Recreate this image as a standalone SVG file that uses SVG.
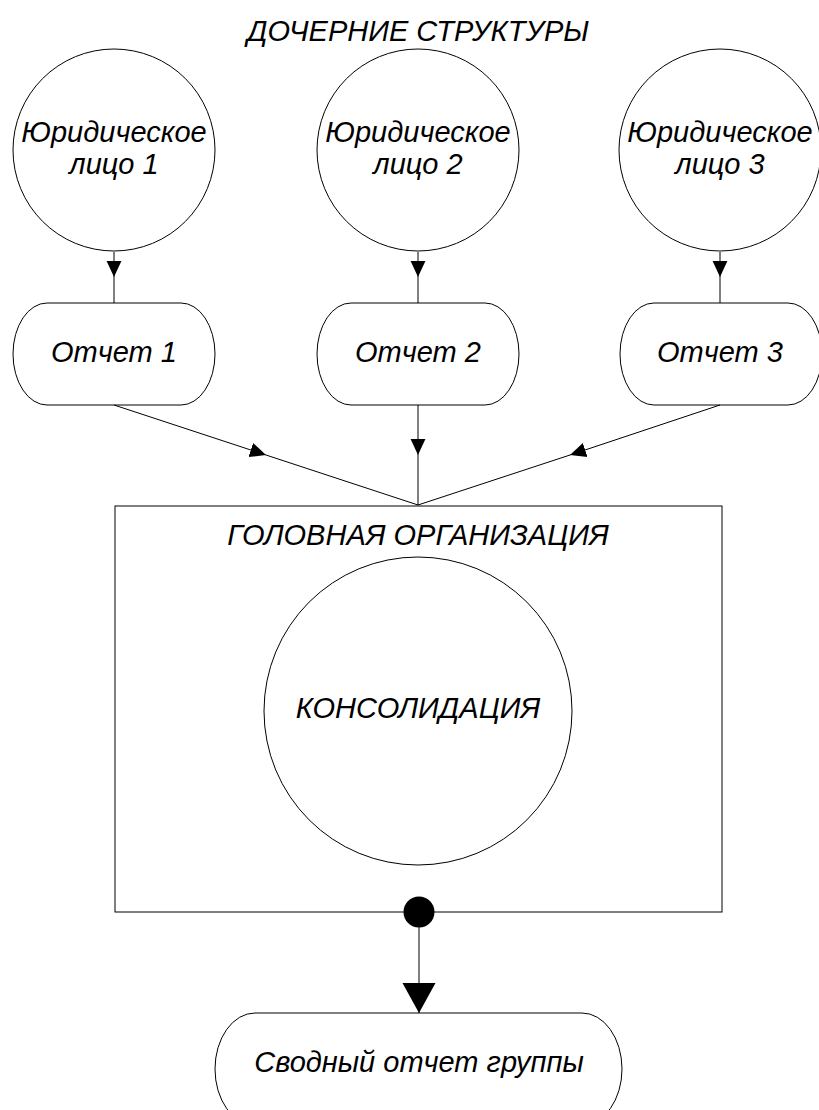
<svg xmlns="http://www.w3.org/2000/svg" width="819" height="1110" viewBox="0 0 819 1110">
<style>
.shape{fill:#fff;stroke:#000;stroke-width:1}
.line{stroke:#000;stroke-width:1;fill:none}
text{font-family:"Liberation Sans",Arial,sans-serif;font-style:italic;font-size:29px;fill:#000;text-anchor:middle}
</style>
<defs>
<marker id="arr" markerUnits="userSpaceOnUse" markerWidth="16" markerHeight="16" viewBox="0 0 14 14" refX="14" refY="7" orient="auto">
<path d="M0,0.5 L14,7 L0,13.5 Z" fill="#000"/>
</marker>
<marker id="arrBig" markerUnits="userSpaceOnUse" markerWidth="34" markerHeight="34" viewBox="0 0 30 34" refX="30" refY="17" orient="auto">
<path d="M0,0.5 L30,17 L0,33.5 Z" fill="#000"/>
</marker>
</defs>
<rect width="819" height="1110" fill="#fff"/>
<text x="418" y="41">ДОЧЕРНИЕ СТРУКТУРЫ</text>
<g id="le1">
<circle class="shape" cx="114" cy="150" r="101"/>
<text x="114" y="142">Юридическое</text>
<text x="114" y="174">лицо 1</text>
</g>
<g id="le2">
<circle class="shape" cx="418" cy="150" r="101"/>
<text x="418" y="142">Юридическое</text>
<text x="418" y="174">лицо 2</text>
</g>
<g id="le3">
<circle class="shape" cx="720" cy="150" r="101"/>
<text x="720" y="142">Юридическое</text>
<text x="720" y="174">лицо 3</text>
</g>
<g id="rep1">
<rect class="shape" x="13" y="303" width="202" height="102" rx="34" ry="51"/>
<text x="114" y="362">Отчет 1</text>
</g>
<g id="rep2">
<rect class="shape" x="317" y="303" width="202" height="102" rx="34" ry="51"/>
<text x="418" y="362">Отчет 2</text>
</g>
<g id="rep3">
<rect class="shape" x="620" y="303" width="202" height="102" rx="34" ry="51"/>
<text x="720" y="362">Отчет 3</text>
</g>
<g id="head">
<rect class="shape" x="115" y="506" width="607" height="406"/>
<text x="418" y="545">ГОЛОВНАЯ ОРГАНИЗАЦИЯ</text>
</g>
<g id="consol">
<circle class="shape" cx="418" cy="711" r="154"/>
<text x="418" y="718">КОНСОЛИДАЦИЯ</text>
</g>
<g id="summary">
<rect class="shape" x="215" y="1013" width="407" height="112" rx="40" ry="56"/>
<text x="419" y="1072">Сводный отчет группы</text>
</g>
<g id="connectors">
<line class="line" x1="114" y1="252" x2="114" y2="277" marker-end="url(#arr)"/>
<line class="line" x1="114" y1="277" x2="114" y2="303"/>
<line class="line" x1="418" y1="252" x2="418" y2="277" marker-end="url(#arr)"/>
<line class="line" x1="418" y1="277" x2="418" y2="303"/>
<line class="line" x1="720" y1="252" x2="720" y2="277" marker-end="url(#arr)"/>
<line class="line" x1="720" y1="277" x2="720" y2="303"/>
<line class="line" x1="114" y1="405" x2="266" y2="455" marker-end="url(#arr)"/>
<line class="line" x1="266" y1="455" x2="418" y2="505"/>
<line class="line" x1="418" y1="405" x2="418" y2="455" marker-end="url(#arr)"/>
<line class="line" x1="418" y1="455" x2="418" y2="505"/>
<line class="line" x1="720" y1="405" x2="570" y2="455" marker-end="url(#arr)"/>
<line class="line" x1="570" y1="455" x2="418" y2="505"/>
<line class="line" x1="419" y1="912" x2="419" y2="1013" marker-end="url(#arrBig)"/>
<circle cx="419" cy="912" r="15.5" fill="#000"/>
</g>
</svg>
